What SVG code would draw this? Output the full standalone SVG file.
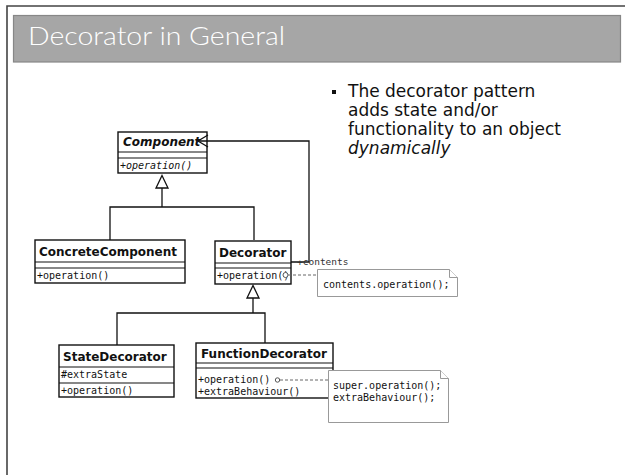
<svg xmlns="http://www.w3.org/2000/svg" width="625" height="475" viewBox="0 0 625 475">
  <style>
    .box { fill: #ffffff; stroke: #111111; stroke-width: 1.4; }
    .sep { stroke: #111111; stroke-width: 1.2; fill: none; }
    .name { font-family: "DejaVu Sans", sans-serif; font-weight: bold; font-size: 12px; fill: #111111; }
    .member { font-family: "DejaVu Sans Mono", monospace; font-size: 10px; fill: #111111; }
    .conn { stroke: #111111; stroke-width: 1.3; fill: none; }
    .tri { fill: #ffffff; stroke: #111111; stroke-width: 1.3; }
    .dash { stroke: #666666; stroke-width: 1; stroke-dasharray: 3 2; fill: none; }
    .note { fill: #ffffff; stroke: #999999; stroke-width: 1; }
    .bullet { font-family: "DejaVu Sans", sans-serif; font-size: 17px; fill: #111111; }
  </style>

  <!-- slide frame -->
  <rect x="0" y="0" width="625" height="475" fill="#ffffff"/>
  <path d="M7 475 L7 6 L625 6" fill="none" stroke="#444444" stroke-width="1.6"/>

  <!-- title bar -->
  <g id="title">
    <rect x="13.5" y="15.5" width="607" height="46.5" fill="#a6a6a6" stroke="#878787" stroke-width="1.2"/>
    <text x="28" y="45" font-family="Lato, 'Open Sans', sans-serif" font-weight="300" font-size="26" fill="#ffffff" textLength="257" lengthAdjust="spacingAndGlyphs">Decorator in General</text>
  </g>

  <!-- bullet text -->
  <g id="bullets">
    <rect x="332" y="90" width="4" height="4" fill="#111111"/>
    <text class="bullet" x="348" y="97">The decorator pattern</text>
    <text class="bullet" x="348" y="116">adds state and/or</text>
    <text class="bullet" x="348" y="135">functionality to an object</text>
    <text class="bullet" x="348" y="154" font-style="italic">dynamically</text>
  </g>

  <!-- Component (abstract) -->
  <g id="component">
    <rect class="box" x="118" y="132" width="89" height="41"/>
    <line class="sep" x1="118" y1="152" x2="207" y2="152"/>
    <line class="sep" x1="118" y1="158" x2="207" y2="158"/>
    <text class="name" x="123" y="146" font-style="italic">Component</text>
    <text class="member" x="120" y="169" font-style="italic">+operation()</text>
  </g>

  <!-- ConcreteComponent -->
  <g id="concrete-component">
    <rect class="box" x="35" y="240" width="150" height="43"/>
    <line class="sep" x1="35" y1="262" x2="185" y2="262"/>
    <line class="sep" x1="35" y1="268" x2="185" y2="268"/>
    <text class="name" x="39" y="256">ConcreteComponent</text>
    <text class="member" x="37" y="279">+operation()</text>
  </g>

  <!-- Decorator -->
  <g id="decorator">
    <rect class="box" x="215" y="241" width="76" height="43"/>
    <line class="sep" x1="215" y1="263" x2="291" y2="263"/>
    <line class="sep" x1="215" y1="268" x2="291" y2="268"/>
    <text class="name" x="219" y="257">Decorator</text>
    <text class="member" x="217" y="279">+operation()</text>
    <circle cx="285.5" cy="275" r="2.5" fill="#ffffff" stroke="#555555" stroke-width="1"/>
  </g>

  <!-- StateDecorator -->
  <g id="state-decorator">
    <rect class="box" x="59" y="345" width="115" height="52"/>
    <line class="sep" x1="59" y1="367" x2="174" y2="367"/>
    <line class="sep" x1="59" y1="383" x2="174" y2="383"/>
    <text class="name" x="63" y="361">StateDecorator</text>
    <text class="member" x="61" y="378">#extraState</text>
    <text class="member" x="61" y="394">+operation()</text>
  </g>

  <!-- FunctionDecorator -->
  <g id="function-decorator">
    <rect class="box" x="196" y="343" width="137" height="55"/>
    <line class="sep" x1="196" y1="363" x2="333" y2="363"/>
    <line class="sep" x1="196" y1="368" x2="333" y2="368"/>
    <text class="name" x="201" y="358">FunctionDecorator</text>
    <text class="member" x="198" y="383">+operation()</text>
    <text class="member" x="198" y="395">+extraBehaviour()</text>
    <circle cx="277.5" cy="380" r="2.2" fill="#ffffff" stroke="#555555" stroke-width="1"/>
  </g>

  <!-- connectors -->
  <g id="connectors">
    <!-- ConcreteComponent / Decorator generalize Component -->
    <path class="conn" d="M110 240 L110 207 L254 207 L254 240"/>
    <path class="conn" d="M162 207 L162 188"/>
    <polygon class="tri" points="162,175.5 168,188 156,188"/>
    <!-- StateDecorator / FunctionDecorator generalize Decorator -->
    <path class="conn" d="M117 345 L117 313 L265 313 L265 343"/>
    <path class="conn" d="M253 313 L253 298"/>
    <polygon class="tri" points="253,285.5 259,298 247,298"/>
    <!-- Decorator holds a Component (+contents) -->
    <path class="conn" d="M291 262 L309 262 L309 141 L198 141"/>
    <path class="conn" d="M208 135 L198 141 L208 147"/>
    <text x="297" y="265" font-family="'DejaVu Sans Mono', monospace" font-size="9.5" fill="#333333">+contents</text>
    <!-- note links -->
    <path class="dash" d="M288 275 L325 275"/>
    <path class="dash" d="M280 380 L330 380"/>
  </g>

  <!-- note: Decorator.operation -->
  <g id="note-decorator">
    <path class="note" d="M317.5 269.5 L449.5 269.5 L457.5 277.5 L457.5 296.5 L317.5 296.5 Z"/>
    <path class="note" d="M449.5 269.5 L449.5 277.5 L457.5 277.5" fill="none"/>
    <text class="member" x="323" y="288">contents.operation();</text>
  </g>

  <!-- note: FunctionDecorator.operation -->
  <g id="note-function-decorator">
    <path class="note" d="M328.5 370.5 L440.5 370.5 L448.5 378.5 L448.5 422.5 L328.5 422.5 Z"/>
    <path class="note" d="M440.5 370.5 L440.5 378.5 L448.5 378.5" fill="none"/>
    <text class="member" x="333" y="389">super.operation();</text>
    <text class="member" x="333" y="401">extraBehaviour();</text>
  </g>
</svg>
